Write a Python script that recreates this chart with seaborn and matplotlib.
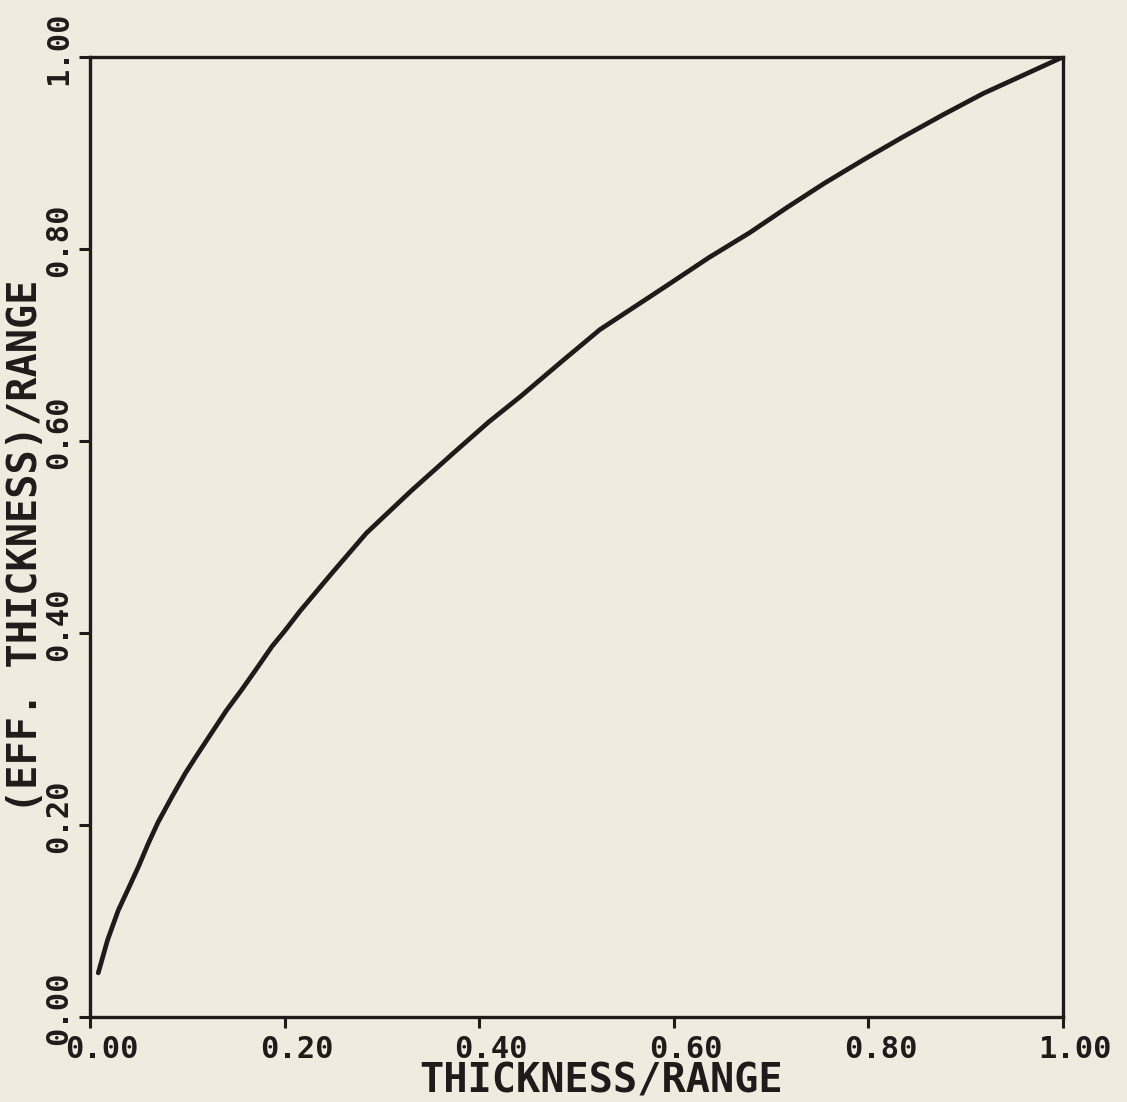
import matplotlib
matplotlib.use("Agg")
import matplotlib.pyplot as plt
import matplotlib.transforms as mtransforms
import seaborn as sns
import pandas as pd

# Effective thickness versus thickness, both normalised by range
thickness = [0.0085, 0.018, 0.029, 0.040, 0.050, 0.060, 0.070, 0.084, 0.098,
             0.112, 0.125, 0.140, 0.156, 0.172, 0.187, 0.200, 0.216, 0.250,
             0.284, 0.330, 0.373, 0.410, 0.442, 0.485, 0.524, 0.560, 0.593,
             0.636, 0.678, 0.716, 0.754, 0.795, 0.836, 0.877, 0.918, 0.959, 1.0]
eff_thickness = [0.046, 0.080, 0.111, 0.135, 0.157, 0.181, 0.203, 0.229, 0.254,
                 0.276, 0.296, 0.319, 0.341, 0.364, 0.386, 0.402, 0.423, 0.464,
                 0.504, 0.548, 0.587, 0.620, 0.646, 0.683, 0.716, 0.740, 0.762,
                 0.791, 0.817, 0.843, 0.868, 0.893, 0.917, 0.940, 0.962, 0.981, 1.0]

tick_values = [0.0, 0.2, 0.4, 0.6, 0.8, 1.0]
tick_labels = ["0.00", "0.20", "0.40", "0.60", "0.80", "1.00"]

x_title = "THICKNESS/RANGE"
y_title = "(EFF. THICKNESS)/RANGE"

paper = "#f0ebdf"
ink = "#221a1a"

sns.set_theme(style="ticks")
plt.rcParams["font.family"] = ["DejaVu Sans Mono", "DejaVu Sans"]
plt.rcParams["font.weight"] = "bold"

df = pd.DataFrame({"thickness": thickness, "eff": eff_thickness})

fig = plt.figure(figsize=(11.27, 11.02), dpi=100, facecolor=paper)
ax = fig.add_axes([90 / 1127, 1 - 1017 / 1102, 973 / 1127, 960 / 1102])
ax.set_facecolor(paper)

sns.lineplot(data=df, x="thickness", y="eff", ax=ax, sort=False,
             estimator=None, color=ink, linewidth=3.4)
for line in ax.get_lines():
    line.set_solid_joinstyle("round")
    line.set_solid_capstyle("round")

ax.set_xlim(0, 1)
ax.set_ylim(0, 1)

for side in ["left", "right", "top", "bottom"]:
    ax.spines[side].set_color(ink)
    ax.spines[side].set_linewidth(2.4)

ax.set_xticks(tick_values)
ax.set_xticklabels(tick_labels)
ax.set_yticks(tick_values)
ax.set_yticklabels(tick_labels)
ax.tick_params(axis="both", direction="out", length=8, width=2.2,
               color=ink, labelcolor=ink, labelsize=22)
ax.tick_params(axis="x", pad=5)
ax.tick_params(axis="y", pad=4, labelrotation=90)

# the plotter puts the decimal point on the tick, so shift the labels a little
dx = mtransforms.ScaledTranslation(12 / 100, 0, fig.dpi_scale_trans)
for lab in ax.get_xticklabels():
    lab.set_transform(lab.get_transform() + dx)
    lab.set_fontweight("bold")
dy = mtransforms.ScaledTranslation(0, 9 / 100, fig.dpi_scale_trans)
for lab in ax.get_yticklabels():
    lab.set_transform(lab.get_transform() + dy)
    lab.set_fontweight("bold")
    lab.set_verticalalignment("center")

ax.set_xlabel(x_title, fontsize=29, color=ink, fontweight="bold")
ax.set_ylabel(y_title, fontsize=29, color=ink, fontweight="bold")
ax.xaxis.set_label_coords(0.525, -0.046)
ax.yaxis.set_label_coords(-0.046, 0.49)

fig.savefig("out.png", dpi=100, facecolor=paper)
